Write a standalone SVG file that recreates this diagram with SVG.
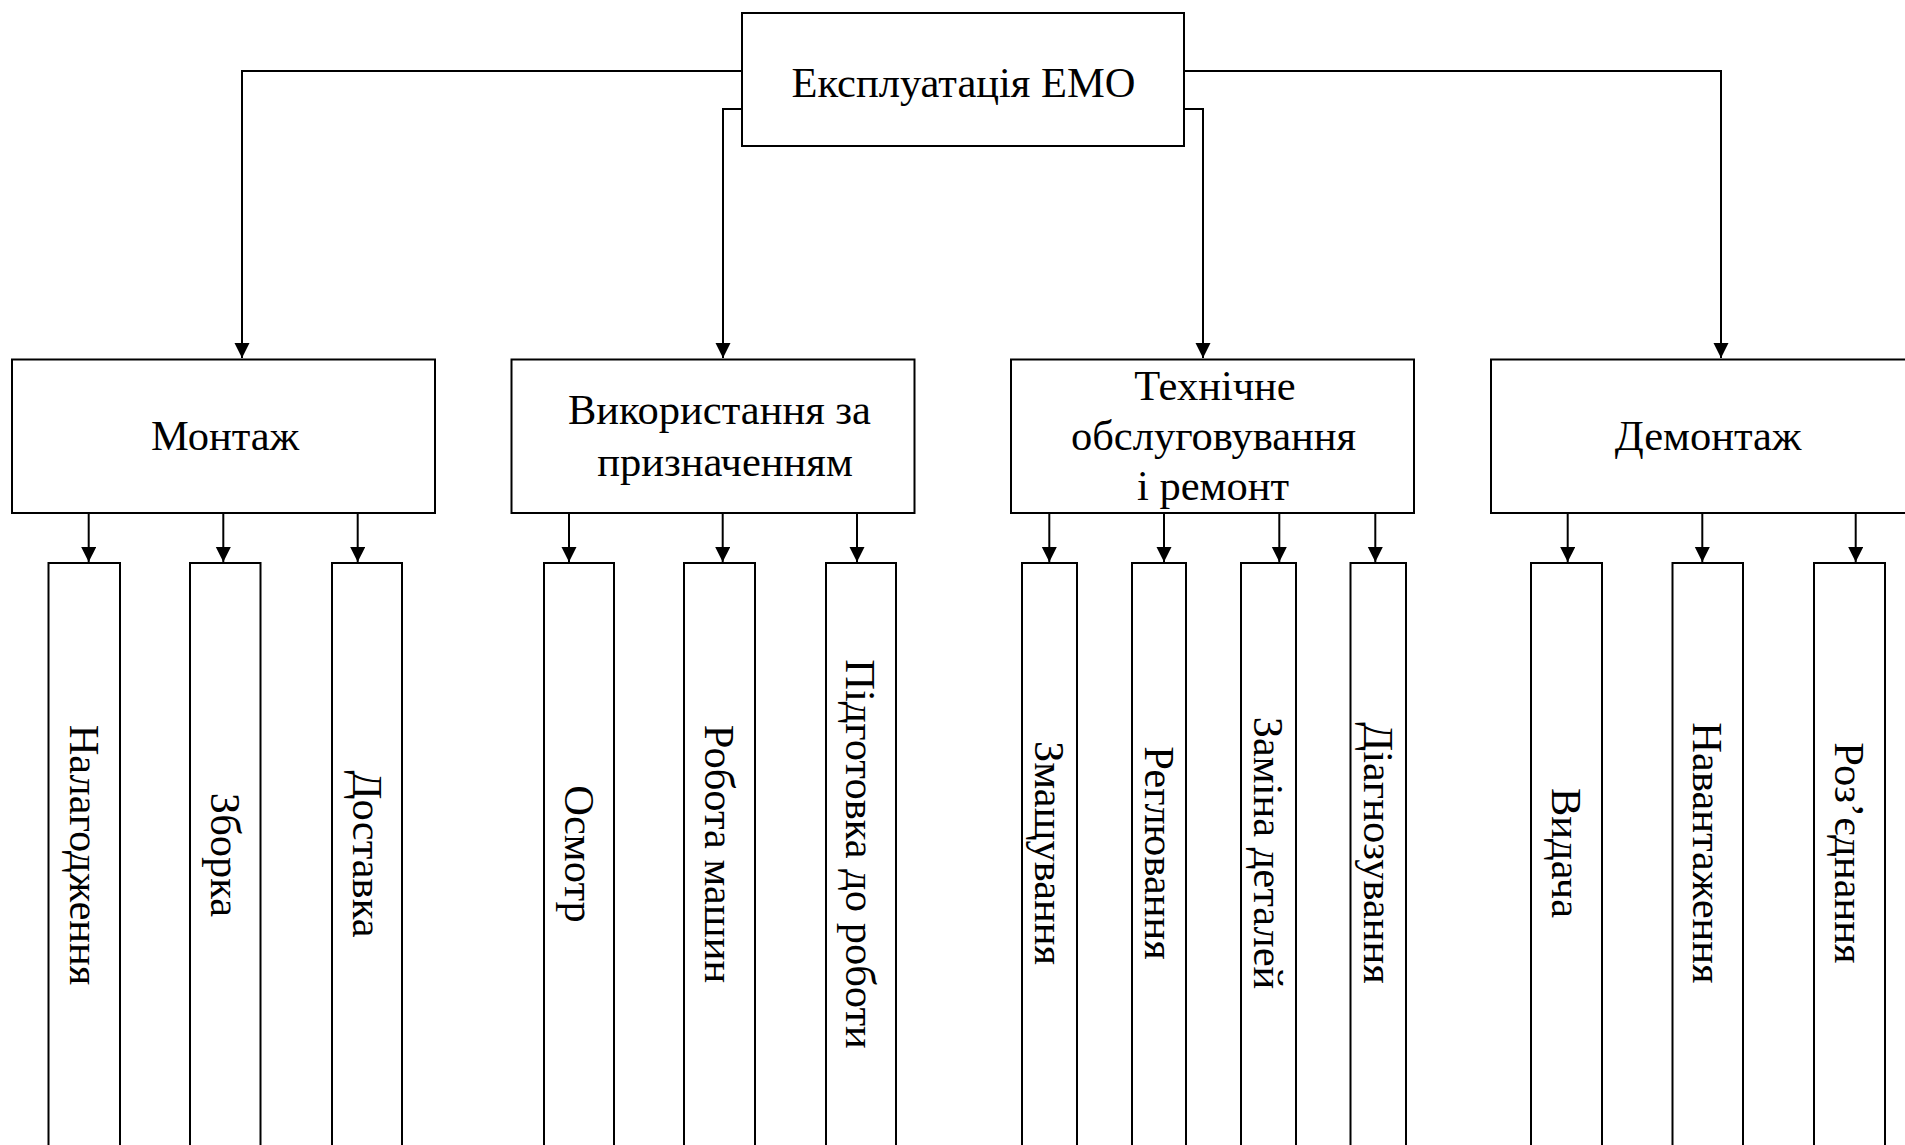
<svg xmlns="http://www.w3.org/2000/svg" width="1905" height="1145" viewBox="0 0 1905 1145">
<style>
.box{fill:#fff;stroke:#000;stroke-width:2}
.t{font-family:"Liberation Serif","Times New Roman",serif;font-size:42.5px;fill:#000;text-anchor:middle}
.c{fill:none;stroke:#000;stroke-width:2}
</style>
<defs>
<marker id="ah" markerUnits="userSpaceOnUse" markerWidth="16" markerHeight="16" refX="15" refY="7.5" orient="auto" viewBox="0 0 16 16">
<path d="M0,0 L15,7.5 L0,15 z" fill="#000"/>
</marker>
</defs>
<rect width="1905" height="1145" fill="#fff"/>
<g id="connectors">
<path class="c" d="M742,71 H242 V358" marker-end="url(#ah)"/>
<path class="c" d="M742,109 H723 V358" marker-end="url(#ah)"/>
<path class="c" d="M1184,71 H1721 V358" marker-end="url(#ah)"/>
<path class="c" d="M1184,109 H1203 V358" marker-end="url(#ah)"/>
<path class="c" d="M88.7,513 V562" marker-end="url(#ah)"/>
<path class="c" d="M223.3,513 V562" marker-end="url(#ah)"/>
<path class="c" d="M357.7,513 V562" marker-end="url(#ah)"/>
<path class="c" d="M569,513 V562" marker-end="url(#ah)"/>
<path class="c" d="M722.7,513 V562" marker-end="url(#ah)"/>
<path class="c" d="M857,513 V562" marker-end="url(#ah)"/>
<path class="c" d="M1049.3,513 V562" marker-end="url(#ah)"/>
<path class="c" d="M1164,513 V562" marker-end="url(#ah)"/>
<path class="c" d="M1279.3,513 V562" marker-end="url(#ah)"/>
<path class="c" d="M1375.3,513 V562" marker-end="url(#ah)"/>
<path class="c" d="M1567.7,513 V562" marker-end="url(#ah)"/>
<path class="c" d="M1702.3,513 V562" marker-end="url(#ah)"/>
<path class="c" d="M1855.7,513 V562" marker-end="url(#ah)"/>
</g>
<g id="root">
<rect class="box" x="742" y="13" width="442" height="133"/>
<text class="t" x="963.5" y="97">Експлуатація ЕМО</text>
</g>
<g id="montazh">
<rect class="box" x="12" y="359.5" width="423" height="153.5"/>
<text class="t" x="225" y="450">Монтаж</text>
</g>
<g id="vykorystannia">
<rect class="box" x="511.5" y="359.5" width="403" height="153.5"/>
<text class="t" x="719.5" y="424">Використання за</text>
<text class="t" x="725" y="476">призначенням</text>
</g>
<g id="tekhnichne">
<rect class="box" x="1011" y="359.5" width="403" height="153.5"/>
<text class="t" x="1215" y="400">Технічне</text>
<text class="t" x="1213.5" y="450">обслуговування</text>
<text class="t" x="1213" y="500">і ремонт</text>
</g>
<g id="demontazh">
<rect class="box" x="1491" y="359.5" width="434" height="153.5"/>
<text class="t" x="1708" y="450">Демонтаж</text>
</g>
<g id="nalagodzhennia">
<rect class="box" x="48.5" y="563" width="71.5" height="600"/>
<text class="t" transform="translate(69.8,855) rotate(90)">Налагодження</text>
</g>
<g id="zborka">
<rect class="box" x="190" y="563" width="70.5" height="600"/>
<text class="t" transform="translate(210.8,855) rotate(90)">Зборка</text>
</g>
<g id="dostavka">
<rect class="box" x="332" y="563" width="70" height="600"/>
<text class="t" transform="translate(352.5,854) rotate(90)">Доставка</text>
</g>
<g id="osmotr">
<rect class="box" x="544" y="563" width="70" height="600"/>
<text class="t" transform="translate(564.5,854) rotate(90)">Осмотр</text>
</g>
<g id="robota">
<rect class="box" x="684" y="563" width="71" height="600"/>
<text class="t" transform="translate(705,854) rotate(90)">Робота машин</text>
</g>
<g id="pidhotovka">
<rect class="box" x="826" y="563" width="70" height="600"/>
<text class="t" transform="translate(846,854) rotate(90)">Підготовка до роботи</text>
</g>
<g id="zmashchuvannia">
<rect class="box" x="1022" y="563" width="55" height="600"/>
<text class="t" transform="translate(1035,853) rotate(90)">Змащування</text>
</g>
<g id="rehlyuvannia">
<rect class="box" x="1132" y="563" width="54" height="600"/>
<text class="t" transform="translate(1144.5,853) rotate(90)">Реглювання</text>
</g>
<g id="zamina">
<rect class="box" x="1241" y="563" width="55" height="600"/>
<text class="t" transform="translate(1254,853) rotate(90)">Заміна деталей</text>
</g>
<g id="diahnozuvannia">
<rect class="box" x="1350.5" y="563" width="55.5" height="600"/>
<text class="t" transform="translate(1364,853) rotate(90)">Діагнозування</text>
</g>
<g id="vydacha">
<rect class="box" x="1531" y="563" width="71" height="600"/>
<text class="t" transform="translate(1552,853) rotate(90)">Видача</text>
</g>
<g id="navantazhennia">
<rect class="box" x="1672.5" y="563" width="70.5" height="600"/>
<text class="t" transform="translate(1693,853) rotate(90)">Навантаження</text>
</g>
<g id="rozyednannia">
<rect class="box" x="1814" y="563" width="71" height="600"/>
<text class="t" transform="translate(1835,853) rotate(90)">Роз’єднання</text>
</g>
</svg>
